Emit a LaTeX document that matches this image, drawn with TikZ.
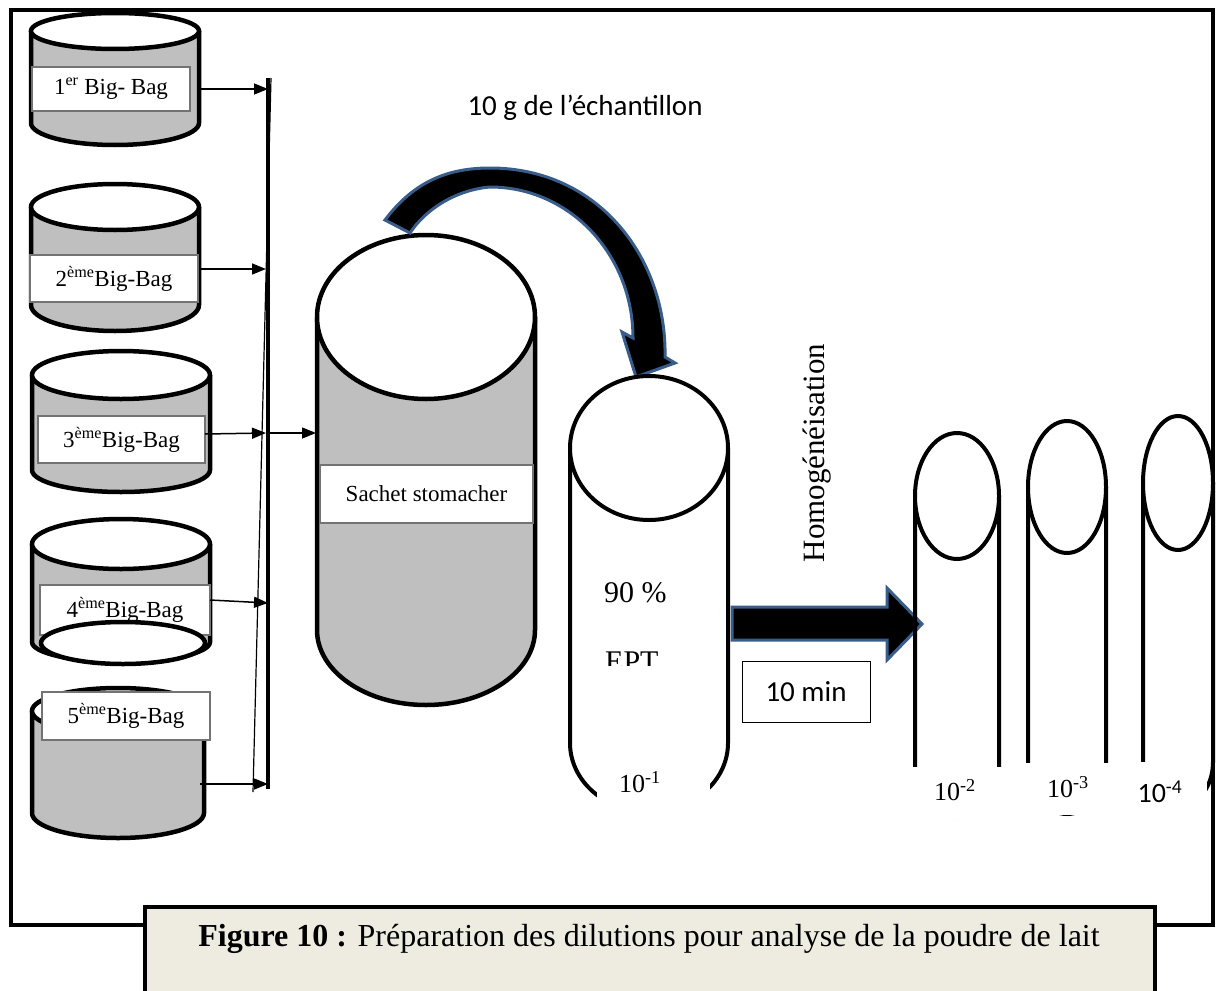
\documentclass[tikz,border=0pt]{standalone}
\usepackage{fontspec}
\setmainfont{Liberation Serif}
\newfontfamily\calib{Carlito}
\usetikzlibrary{arrows.meta}
\definecolor{baggray}{RGB}{191,191,191}
\definecolor{capbg}{HTML}{EEECE1}
\definecolor{shapeblue}{HTML}{385D8A}

% cylinder: centre x, x radius, top y, top y radius, bottom y, bottom y radius
\newcommand\bagcyl[6]{%
  \fill[baggray] (#1-#2,#3) -- (#1-#2,#5)
    arc[start angle=180,end angle=360,x radius=#2pt,y radius=#6pt] -- (#1+#2,#3) -- cycle;
  \draw[outline] (#1-#2,#3) -- (#1-#2,#5)
    arc[start angle=180,end angle=360,x radius=#2pt,y radius=#6pt] -- (#1+#2,#3);
  \draw[outline,fill=white] (#1,#3) ellipse[x radius=#2pt,y radius=#4pt];
}
% open tube: centre x, x radius, top y, top y radius, bottom y, bottom y radius
\newcommand\tubecyl[6]{%
  \draw[tubeline] (#1-#2,#3) -- (#1-#2,#5)
    arc[start angle=180,end angle=360,x radius=#2pt,y radius=#6pt] -- (#1+#2,#3);
  \draw[tubeline,fill=white] (#1,#3) ellipse[x radius=#2pt,y radius=#4pt];
}

\begin{document}
\begin{tikzpicture}[x=1pt,y=-1pt,
  outline/.style={line width=4.5pt},
  tubeline/.style={line width=4pt},
  labelbox/.style={draw=black!55,line width=1.5pt,fill=white,inner sep=0pt,
    font=\fontsize{23}{26}\selectfont},
  feed/.style={line width=1.5pt,-{Triangle[length=14pt,width=11pt]}},
  bigarrow/.style={fill=black,draw=shapeblue,line width=3pt,line join=miter},
  dil/.style={font=\fontsize{26}{28}\selectfont,inner sep=0pt}]
\useasboundingbox (0,0) rectangle (1217,990);
\fill[white] (0,0) rectangle (1217,990);

% outer frame
\draw[line width=4pt] (11,10) rectangle (1213,925);

% ---- the five big-bags ----
\bagcyl{115}{84}{31}{18}{123}{22}
\node[labelbox,minimum width=158pt,minimum height=44pt] (b1) at (111,89) {1\textsuperscript{er} Big- Bag};

\bagcyl{115}{84}{207}{23}{305}{26}
\node[labelbox,minimum width=168pt,minimum height=47pt] (b2) at (114,278.5) {2\textsuperscript{ème}Big-Bag};

\bagcyl{121}{89}{375}{24}{470}{22}
\node[labelbox,minimum width=167pt,minimum height=47pt] (b3) at (121.5,439.5) {3\textsuperscript{ème}Big-Bag};

\bagcyl{121}{89}{544}{25}{642}{20}
\node[labelbox,minimum width=170pt,minimum height=50pt] (b4) at (125,610) {4\textsuperscript{ème}Big-Bag};
\draw[outline,fill=white] (123,643) ellipse[x radius=82pt,y radius=21pt];

\bagcyl{118}{86}{711}{23}{813}{25}
\node[labelbox,minimum width=168pt,minimum height=48pt] (b5) at (126,716) {5\textsuperscript{ème}Big-Bag};

% ---- collecting line ----
\coordinate (spinetop) at (268,78);
\coordinate (spinebot) at (268,789);
\coordinate (slanttop) at (271,78);
\coordinate (slantbot) at (253,792);
\draw[line width=4pt] (spinetop) -- (spinebot);
\draw[line width=1.2pt] (slanttop) -- (slantbot);

\coordinate (o1) at (199,89);  \coordinate (s1) at (268,89);
\coordinate (o2) at (199,269); \coordinate (s2) at (266,269);
\coordinate (o3) at (205,434); \coordinate (s3) at (266,433);
\coordinate (o4) at (210,600); \coordinate (s4) at (268,603);
\coordinate (o5) at (200,784); \coordinate (s5) at (268,784);
\draw[feed] (o1) -- (s1);
\draw[feed] (o2) -- (s2);
\draw[feed] (o3) -- (s3);
\draw[feed] (o4) -- (s4);
\draw[feed] (o5) -- (s5);

% ---- stomacher bag ----
\bagcyl{426}{109}{317}{82}{630}{75}
\node[labelbox,minimum width=213pt,minimum height=58pt,font=\fontsize{23}{26}\selectfont] (sachet) at (426.5,494) {Sachet stomacher};
\coordinate (sin) at (316,433);
\coordinate (sout) at (270,433);
\draw[feed] (sout) -- (sin);

% ---- curved transfer arrow ----
\draw[bigarrow] (385,220) .. controls (415,180) and (450,168) .. (490,168)
  .. controls (600,168) and (667,260) .. (665,357) -- (675,363) -- (636,377)
  -- (622,332) -- (633,338) .. controls (633,255) and (570,187) .. (490,187)
  .. controls (455,190) and (425,210) .. (410,233) -- cycle;
\node[font=\calib\fontsize{29}{32}\selectfont] (sample) at (585,108) {10 g de l’échantillon};

% ---- first dilution tube ----
\tubecyl{649}{79}{448}{72}{743}{69}
\fill[white] (597,755) rectangle (710,818);
\node[dil] (d1) at (640,782) {10\textsuperscript{-1}};
\node[anchor=base west,inner sep=0pt,font=\fontsize{30}{32}\selectfont] (pct) at (604,602) {90 \%};
\begin{scope}
  \clip (590,640) rectangle (700,665);
  \node[anchor=base west,inner sep=0pt,font=\fontsize{30}{32}\selectfont] (ept) at (605,671) {EPT};
\end{scope}

% ---- homogenisation arrow ----
\draw[bigarrow] (732,607) -- (887,607) -- (887,588) -- (922,624) -- (887,660)
  -- (887,640) -- (732,640) -- cycle;
\node[rotate=90,font=\fontsize{31}{34}\selectfont] (homog) at (817,453) {Homogénéisation};
\node[draw,line width=1pt,minimum width=128pt,minimum height=61pt,
  font=\calib\fontsize{29}{32}\selectfont] (tmin) at (806,691.5) {10 min};

% ---- further dilution tubes ----
\tubecyl{957}{42}{496}{63}{767}{50}
\fill[white] (912,767) rectangle (1001,819);
\node[dil] (d2) at (955,790) {10\textsuperscript{-2}};

\tubecyl{1067}{39}{487}{66}{763}{51}
\fill[white] (1022,763) rectangle (1117,815);
\node[dil] (d3) at (1068,787) {10\textsuperscript{-3}};

\tubecyl{1178}{35}{483}{67}{762}{45}
\fill[white] (1117,762) rectangle (1207,818);
\node[dil,font=\calib\fontsize{28}{30}\selectfont] (d4) at (1160,792) {10\textsuperscript{-4}};

% ---- caption ----
\draw[line width=4pt,fill=capbg] (145,907) rectangle (1155,1000);
\node[font=\fontsize{32}{34}\selectfont] (caption) at (649,939)
  {\textbf{Figure 10 :} Préparation des dilutions pour analyse de la poudre de lait};
\end{tikzpicture}
\end{document}
